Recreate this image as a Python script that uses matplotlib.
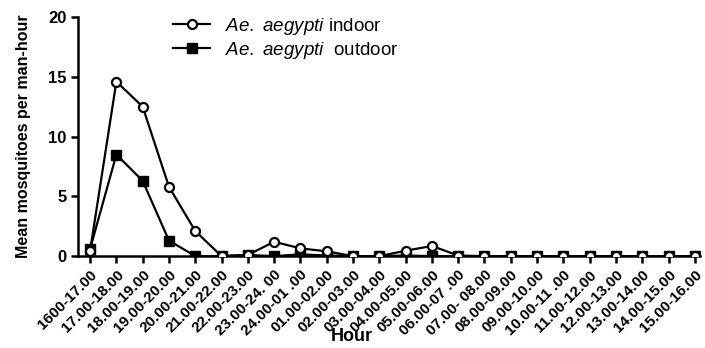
import matplotlib
matplotlib.use("Agg")
import matplotlib.pyplot as plt

plt.rcParams.update({"font.family": "Liberation Sans", "mathtext.fontset": "custom",
                     "mathtext.it": "Liberation Sans:italic", "mathtext.rm": "Liberation Sans"})

hours = ["1600-17.00", "17.00-18.00", "18.00-19.00", "19.00-20.00", "20.00-21.00",
         "21.00-22.00", "22.00-23.00", "23.00-24. 00", "24.00-01 .00", "01.00-02.00",
         "02.00-03.00", "03.00-04.00", "04.00-05.00", "05.00-06.00", "06.00-07 .00",
         "07.00- 08.00", "08.00-09.00", "09.00-10.00", "10.00-11 .00", "11.00-12.00",
         "12.00-13.00", "13.00-14.00", "14.00-15.00", "15.00-16.00"]
indoor = [0.45, 14.6, 12.5, 5.8, 2.1, 0, 0.1, 1.2, 0.65, 0.4, 0, 0, 0.45, 0.85,
          0.05, 0, 0, 0, 0, 0, 0, 0, 0, 0]
outdoor = [0.6, 8.5, 6.3, 1.3, 0, 0, 0.1, 0, 0.15, 0.05, 0, 0, 0.05, 0,
           0, 0, 0, 0, 0, 0, 0, 0, 0, 0]

fig = plt.figure(figsize=(7.05, 3.48), dpi=100)
ax = fig.add_axes([0.111, 0.264, 0.882, 0.687])
x = range(len(hours))
ax.plot(x, indoor, "-o", color="black", lw=1.6, ms=6.5, mfc="white", mew=1.6,
        label=r"$\it{Ae.\ aegypti}$ indoor", zorder=3)
ax.plot(x, outdoor, "-s", color="black", lw=1.6, ms=6.5,
        label=r"$\it{Ae.\ aegypti}$  outdoor", zorder=2)

ax.set_xlim(-0.45, 23.2)
ax.set_ylim(0, 20)
ax.set_yticks([0, 5, 10, 15, 20])
ax.set_xticks(list(x))
ax.set_xticklabels(hours, rotation=45, ha="right", rotation_mode="anchor",
                   fontsize=11, fontweight="bold")
for t in ax.get_yticklabels():
    t.set_fontweight("bold"); t.set_fontsize(12)
for s in ["top", "right"]:
    ax.spines[s].set_visible(False)
for s in ["left", "bottom"]:
    ax.spines[s].set_linewidth(1.8)
ax.tick_params(width=1.8, length=5)

ax.set_ylabel("Mean mosquitoes per man-hour", fontsize=11.5, fontweight="bold")
ax.yaxis.set_label_coords(-0.076, 0.5)
ax.set_xlabel("Hour", fontsize=13, fontweight="bold")
ax.xaxis.set_label_coords(0.44, -0.30)

ax.legend(loc="upper left", bbox_to_anchor=(0.125, 1.075), frameon=False,
          fontsize=13.5, handlelength=2.0, labelspacing=0.15)

fig.savefig("out.png")
